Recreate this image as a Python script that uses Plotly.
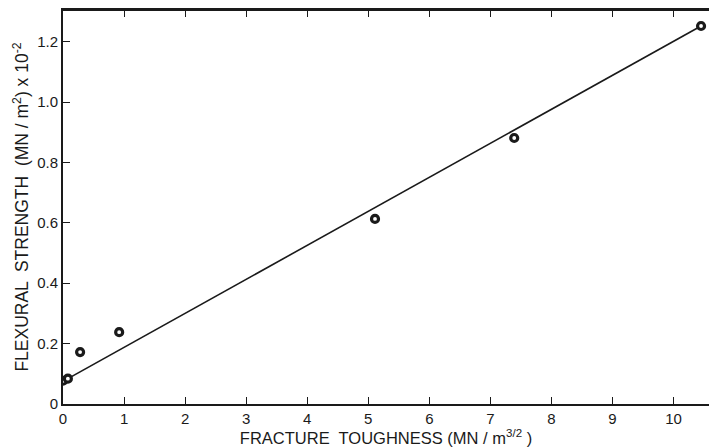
import plotly.graph_objects as go

# Data
toughness = [0.0, 0.08, 0.28, 0.92, 5.11, 7.39, 10.45]
strength = [0.077, 0.084, 0.172, 0.238, 0.613, 0.881, 1.252]

# Fitted straight line endpoints
fit_x = [0.0, 10.45]
fit_y = [0.075, 1.252]

x_ticks = [0, 1, 2, 3, 4, 5, 6, 7, 8, 9, 10]
x_tick_text = ["0", "1", "2", "3", "4", "5", "6", "7", "8", "9", "10"]
y_ticks = [0, 0.2, 0.4, 0.6, 0.8, 1.0, 1.2]
y_tick_text = ["0", "0.2", "0.4", "0.6", "0.8", "1.0", "1.2"]

FONT = "Liberation Sans, DejaVu Sans, sans-serif"
INK = "#1a1a1a"

fig = go.Figure()
fig.add_trace(go.Scatter(
    x=fit_x, y=fit_y, mode="lines",
    line=dict(color=INK, width=1.6),
    showlegend=False, hoverinfo="skip",
))
fig.add_trace(go.Scatter(
    x=toughness, y=strength, mode="markers",
    marker=dict(symbol="circle", size=7, color="white",
                line=dict(color=INK, width=3.2)),
    showlegend=False,
))

fig.update_layout(
    width=709, height=447,
    margin=dict(l=63, r=0, t=10, b=43),
    paper_bgcolor="white", plot_bgcolor="white",
    font=dict(family=FONT, color=INK),
    xaxis=dict(
        range=[0, 10.58], tickmode="array", tickvals=x_ticks, ticktext=x_tick_text,
        ticks="inside", ticklen=7, tickwidth=1.3, tickcolor=INK,
        showline=True, linecolor=INK, linewidth=2, mirror="ticks",
        showgrid=False, zeroline=False,
        tickfont=dict(size=15, color=INK),
        title=dict(text="FRACTURE  TOUGHNESS (MN / m<sup>3/2</sup> )",
                   font=dict(size=16.5, color=INK), standoff=1),
    ),
    yaxis=dict(
        range=[0, 1.305], tickmode="array", tickvals=y_ticks, ticktext=y_tick_text,
        ticks="inside", ticklen=7, tickwidth=1.3, tickcolor=INK,
        showline=True, linecolor=INK, linewidth=2, mirror=False,
        showgrid=False, zeroline=False,
        tickfont=dict(size=15, color=INK),
        title=dict(text="FLEXURAL  STRENGTH  (MN / m<sup>2</sup>) x 10<sup>-2</sup>",
                   font=dict(size=17.5, color=INK), standoff=4),
    ),
)
# top frame line
fig.add_shape(type="line", xref="paper", yref="paper", x0=0, x1=1, y0=1, y1=1,
              line=dict(color=INK, width=2))

fig.write_html("out.html")
